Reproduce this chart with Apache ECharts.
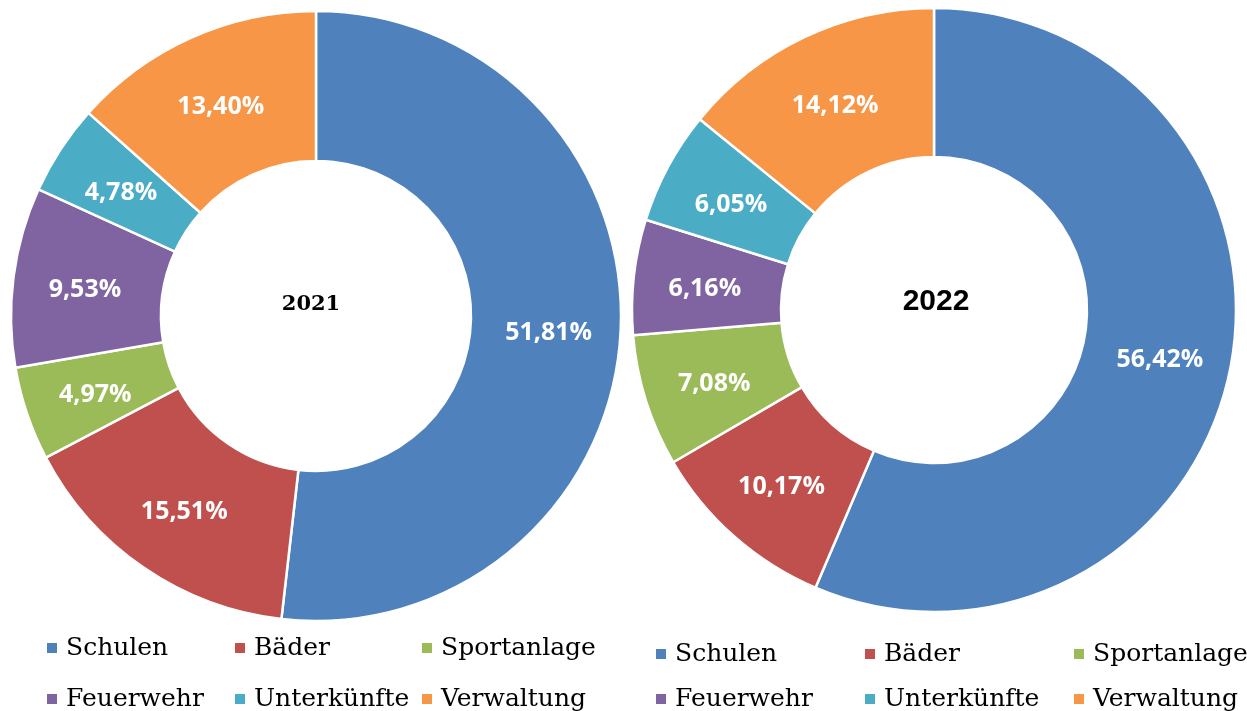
<!DOCTYPE html>
<html>
<head>
<meta charset="utf-8">
<script src="https://cdn.jsdelivr.net/npm/echarts@6/dist/echarts.min.js"></script>
<style>
  html, body {margin: 0; padding: 0; background: #fff;}
  #chart {width: 1247px; height: 711px;}
</style>
</head>
<body>
<div id="chart"></div>
<script>
const categories = ['Schulen', 'Bäder', 'Sportanlage', 'Feuerwehr', 'Unterkünfte', 'Verwaltung'];
const values2021 = [51.81, 15.51, 4.97, 9.53, 4.78, 13.40];
const values2022 = [56.42, 10.17, 7.08, 6.16, 6.05, 14.12];
const colors = ['#4F81BD', '#C0504D', '#9BBB59', '#8064A2', '#4BACC6', '#F79646'];

const chart = echarts.init(document.getElementById('chart'));

const pct = (p) => '{v|' + p.value.toFixed(2).replace('.', ',') + '%}';

const pieSeries = (name, vals, center, radius) => ({
    name: name,
    type: 'pie',
    center: center,
    radius: radius,
    startAngle: 90,
    clockwise: true,
    animation: false,
    avoidLabelOverlap: false,
    itemStyle: {borderColor: '#fff', borderWidth: 2.5},
    label: {
        show: true,
        position: 'inside',
        formatter: pct,
        rich: {
            v: {
                color: '#fff',
                fontFamily: 'Open Sans',
                fontWeight: 'bold',
                fontSize: 25,
                padding: [8, 0, 0, 0]
            }
        }
    },
    labelLine: {show: false},
    emphasis: {disabled: true},
    data: categories.map((c, i) => ({name: c, value: vals[i]}))
});

// one legend per entry so the columns line up like the original
const legendItem = (name, left, top) => ({
    data: [name],
    left: left,
    top: top,
    padding: 0,
    icon: 'rect',
    itemWidth: 12,
    itemHeight: 12,
    selectedMode: false,
    textStyle: {
        fontFamily: 'DejaVu Serif',
        fontSize: 25,
        color: '#000',
        lineHeight: 30,
        padding: [0, 0, 0, 3]
    }
});

const leftCols = [45, 233, 420];
const rightCols = [654, 863, 1072];
const legends = [];
categories.forEach((c, i) => {
    const col = i % 3, row = Math.floor(i / 3);
    legends.push(legendItem(c, leftCols[col], row ? 684 : 633));
    legends.push(legendItem(c, rightCols[col], row ? 684 : 639));
});

chart.setOption({
    color: colors,
    legend: legends,
    graphic: [
        {type: 'text', x: 311, y: 305, style: {text: '2021', align: 'center', verticalAlign: 'middle', font: 'bold 21px "DejaVu Serif"', fill: '#000'}},
        {type: 'text', x: 936, y: 302, style: {text: '2022', align: 'center', verticalAlign: 'middle', font: 'bold 30px "Liberation Sans"', fill: '#000'}}
    ],
    series: [
        pieSeries('2021', values2021, [316, 316], [155, 305]),
        pieSeries('2022', values2022, [934, 310], [153, 302])
    ]
});
</script>
</body>
</html>
